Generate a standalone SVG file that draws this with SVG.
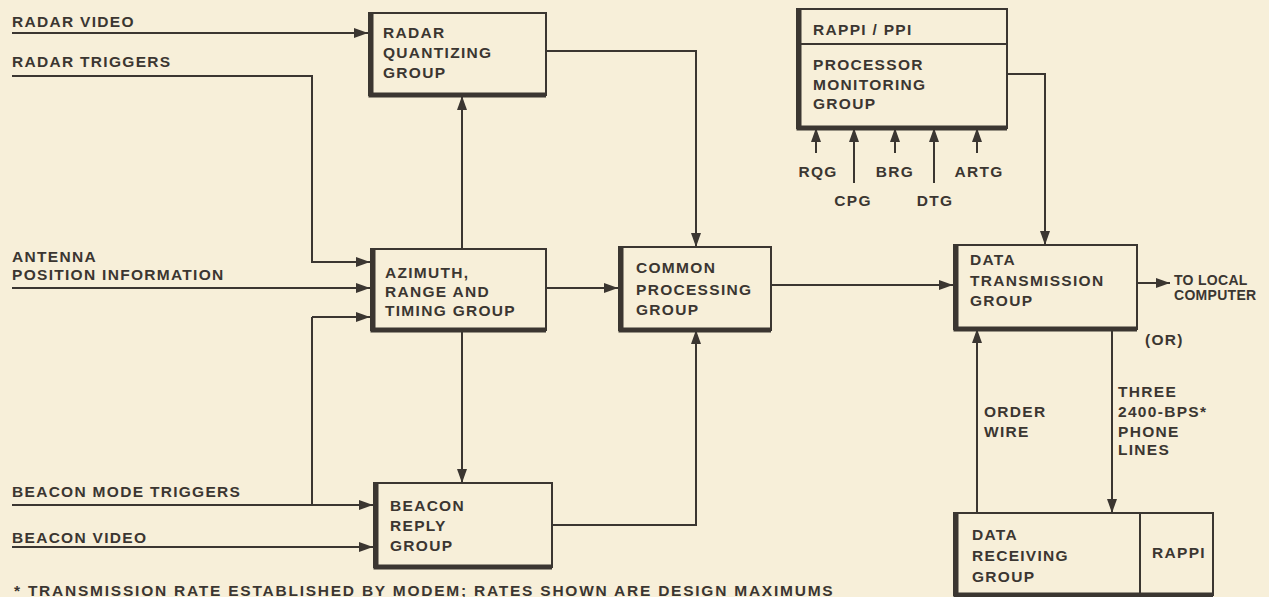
<svg xmlns="http://www.w3.org/2000/svg" width="1269" height="597" viewBox="0 0 1269 597">
<defs>
<marker id="ah" viewBox="0 0 14 10" refX="14" refY="5" markerWidth="14" markerHeight="10" markerUnits="userSpaceOnUse" orient="auto">
<path d="M0,0 L14,5 L0,10 Z" fill="#3b3631"/>
</marker>
<style>
.bg{fill:#f7efd9}
text{font-family:"Liberation Sans",Arial,sans-serif;font-size:15.5px;font-weight:bold;letter-spacing:1.3px;fill:#3b3631}
.tight{font-size:14px;letter-spacing:0.3px}
.box{fill:none;stroke:#3b3631;stroke-width:2}
.sh{fill:none;stroke:#3b3631;stroke-width:5}
.ln{fill:none;stroke:#3b3631;stroke-width:2}
.ar{fill:none;stroke:#3b3631;stroke-width:2;marker-end:url(#ah)}
</style>
</defs>
<rect class="bg" x="0" y="0" width="1269" height="597"/>

<g id="connectors">
<path class="ar" d="M12,33 H368"/>
<path class="ar" d="M12,76 H312 V262 H370"/>
<path class="ar" d="M12,288 H370"/>
<path class="ar" d="M12,505 H373"/>
<path class="ln" d="M312,505 V317"/>
<path class="ar" d="M312,317 H370"/>
<path class="ar" d="M12,547 H373"/>
<path class="ar" d="M462,248 V96"/>
<path class="ar" d="M462,330 V483"/>
<path class="ar" d="M546,288 H618"/>
<path class="ar" d="M546,51 H696 V247"/>
<path class="ar" d="M552,525 H696 V330"/>
<path class="ar" d="M771,285 H953"/>
<path class="ar" d="M1007,74 H1045 V245"/>
<path class="ar" d="M1137,283 H1170"/>
<path class="ar" d="M977,513 V329"/>
<path class="ar" d="M1112,329 V513"/>
<path class="ar" d="M816,153 V128"/>
<path class="ar" d="M854,183 V128"/>
<path class="ar" d="M895,153 V128"/>
<path class="ar" d="M934,183 V128"/>
<path class="ar" d="M977,153 V128"/>
</g>

<g id="radar-quantizing">
<rect class="box" x="369" y="13" width="177" height="82"/>
<path class="sh" d="M371,13 V95 H546"/>
<text x="383" y="38">RADAR</text>
<text x="383" y="58">QUANTIZING</text>
<text x="383" y="78">GROUP</text>
</g>

<g id="azimuth">
<rect class="box" x="371" y="249" width="175" height="81"/>
<path class="sh" d="M373,249 V330 H546"/>
<text x="385" y="278">AZIMUTH,</text>
<text x="385" y="297">RANGE AND</text>
<text x="385" y="316">TIMING GROUP</text>
</g>

<g id="beacon-reply">
<rect class="box" x="374" y="483" width="178" height="84"/>
<path class="sh" d="M376,483 V567 H552"/>
<text x="390" y="511">BEACON</text>
<text x="390" y="531">REPLY</text>
<text x="390" y="551">GROUP</text>
</g>

<g id="common-processing">
<rect class="box" x="619" y="247" width="152" height="83"/>
<path class="sh" d="M621,247 V330 H771"/>
<text x="636" y="273">COMMON</text>
<text x="636" y="295">PROCESSING</text>
<text x="636" y="315">GROUP</text>
</g>

<g id="processor-monitoring">
<rect class="box" x="797" y="9" width="210" height="119"/>
<path class="sh" d="M799,9 V128 H1007"/>
<line class="box" x1="797" y1="44" x2="1007" y2="44"/>
<text x="813" y="35">RAPPI / PPI</text>
<text x="813" y="70">PROCESSOR</text>
<text x="813" y="90">MONITORING</text>
<text x="813" y="109">GROUP</text>
</g>

<g id="data-transmission">
<rect class="box" x="954" y="245" width="183" height="84"/>
<path class="sh" d="M956,245 V329 H1137"/>
<text x="970" y="265">DATA</text>
<text x="970" y="286">TRANSMISSION</text>
<text x="970" y="306">GROUP</text>
</g>

<g id="data-receiving">
<rect class="box" x="954" y="513" width="259" height="82"/>
<path class="sh" d="M956,513 V595 H1213"/>
<line class="box" x1="1140" y1="513" x2="1140" y2="595"/>
<text x="972" y="540">DATA</text>
<text x="972" y="561">RECEIVING</text>
<text x="972" y="582">GROUP</text>
<text x="1152" y="558">RAPPI</text>
</g>

<g id="labels">
<text x="12" y="27">RADAR VIDEO</text>
<text x="12" y="67">RADAR TRIGGERS</text>
<text x="12" y="262">ANTENNA</text>
<text x="12" y="280">POSITION INFORMATION</text>
<text x="12" y="497">BEACON MODE TRIGGERS</text>
<text x="12" y="543">BEACON VIDEO</text>
<text x="818" y="177" text-anchor="middle">RQG</text>
<text x="853" y="206" text-anchor="middle">CPG</text>
<text x="895" y="177" text-anchor="middle">BRG</text>
<text x="935" y="206" text-anchor="middle">DTG</text>
<text x="979" y="177" text-anchor="middle">ARTG</text>
<text class="tight" x="1174" y="285">TO LOCAL</text>
<text class="tight" x="1174" y="300">COMPUTER</text>
<text x="1145" y="345">(OR)</text>
<text x="984" y="417">ORDER</text>
<text x="984" y="437">WIRE</text>
<text x="1118" y="397">THREE</text>
<text x="1118" y="417">2400-BPS*</text>
<text x="1118" y="437">PHONE</text>
<text x="1118" y="455">LINES</text>
<text x="14" y="596" textLength="820" lengthAdjust="spacing">* TRANSMISSION RATE ESTABLISHED BY MODEM; RATES SHOWN ARE DESIGN MAXIMUMS</text>
</g>
</svg>
